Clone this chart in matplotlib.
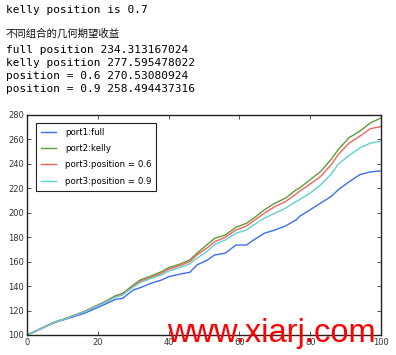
import matplotlib
matplotlib.use('Agg')
import matplotlib.pyplot as plt

# printed output above the chart
header = 'kelly position is 0.7'
cn_title = '不同组合的几何期望收益'
result_lines = [
    'full position 234.313167024',
    'kelly position 277.595478022',
    'position = 0.6 270.53080924',
    'position = 0.9 258.494437316',
]

# values
steps = [0, 2, 5, 8, 11, 14, 16, 19, 22, 25, 27, 30, 32, 35, 38, 40, 43, 46, 48,
         51, 53, 56, 59, 62, 64, 67, 70, 73, 76, 77, 80, 83, 86, 88, 91, 94, 97, 100]
full = [100, 102.5, 106.5, 110.5, 113, 115.8, 117.5, 121.3, 125.1, 129.2, 130,
        136.8, 138.7, 142.3, 145, 147.7, 149.7, 151.3, 157.3, 161.4, 165.5, 166.9,
        173.6, 173.6, 177.7, 183.2, 185.9, 189.2, 194.1, 197.1, 202.5, 208, 213.5,
        219, 225.3, 231.2, 233.4, 234.3]
kelly = [100, 102.7, 106.8, 110.9, 113.6, 117, 119, 123.2, 127.3, 132.2, 134,
         140.9, 145, 148.3, 151.8, 155.1, 157.8, 161.4, 166.9, 174.2, 179.1, 181.8,
         188.1, 191.4, 195.5, 202.3, 207.8, 211.9, 218.7, 220.3, 227.1, 233.9, 244,
         252, 261.5, 266.7, 273.5, 277.6]
pos06 = [100, 102.7, 106.8, 110.5, 113.4, 116.8, 118.8, 122.8, 126.8, 131.5, 133.3,
         140, 144, 147.2, 150.5, 153.8, 156.5, 160, 165.5, 171.5, 176.4, 179.9,
         185.9, 189.2, 193.3, 199.6, 205, 209.1, 215.4, 217.6, 223.6, 229.9, 239.5,
         248, 257, 262.6, 268.8, 270.5]
pos09 = [100, 102.7, 106.8, 110.8, 113.4, 116.6, 118.6, 122.5, 126.5, 131, 132.8,
         139.2, 143, 146.3, 149.1, 152.3, 155, 158.2, 162.8, 168.7, 174.2, 177.7,
         183.2, 185.9, 190, 195.5, 199.6, 203.7, 209.1, 210.7, 216.2, 223, 232,
         240, 247, 253, 257, 258.5]

fig = plt.figure(figsize=(3.96, 3.55), dpi=100, facecolor='white')

mono = 'DejaVu Sans Mono'
fig.text(6/396, 1 - 10/355, header, family=mono, fontsize=8, va='center',
         color='#000000')
fig.text(6/396, 1 - 34/355, cn_title, family=['Noto Sans CJK SC', 'DejaVu Sans'],
         fontsize=7.5, va='center', color='#111111')
for i, line in enumerate(result_lines):
    fig.text(6/396, 1 - (50 + 13*i)/355, line, family=mono, fontsize=8,
             va='center', color='#000000')

ax = fig.add_axes([27/396, 20/355, 354/396, 220/355])
ax.plot(steps, full, color='#3d6cf2', lw=1, label='port1:full')
ax.plot(steps, kelly, color='#5e9a34', lw=1, label='port2:kelly')
ax.plot(steps, pos06, color='#f06262', lw=1, label='port3:position = 0.6')
ax.plot(steps, pos09, color='#62d0d0', lw=1, label='port3:position = 0.9')

ax.set_xlim(0, 100)
ax.set_ylim(100, 280)
ax.set_xticks(range(0, 101, 20))
ax.set_yticks(range(100, 281, 20))
ax.tick_params(direction='in', top=True, right=True, length=3, width=0.6,
               labelsize=6, pad=2, colors='#333333')
for s in ax.spines.values():
    s.set_linewidth(1)
    s.set_color('#222222')

leg = ax.legend(loc='upper left', fontsize=6.2, fancybox=False, framealpha=1,
                edgecolor='#222222', handlelength=1.8, handletextpad=1.0,
                borderpad=0.6, labelspacing=0.85, bbox_to_anchor=(0.012, 0.985))
leg.get_frame().set_linewidth(0.8)

fig.text(167/396, 13/355, 'www.xiarj.com', family='Liberation Sans', fontsize=23.5,
         color='#ff0000', va='baseline', zorder=10)

fig.savefig('out.png', dpi=100, facecolor='white')
